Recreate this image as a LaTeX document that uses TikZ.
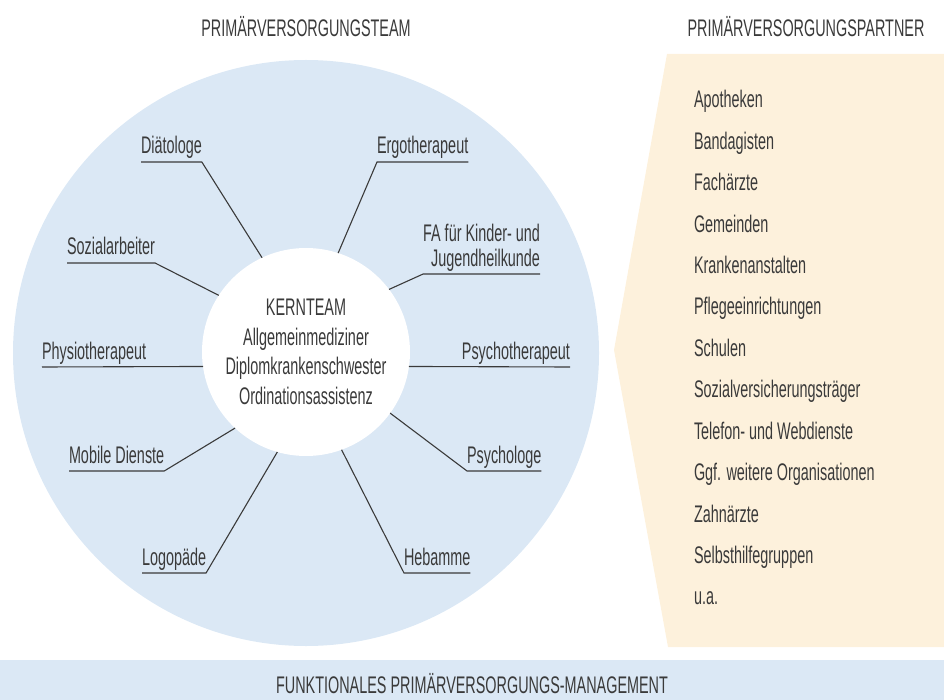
\documentclass[tikz,border=0pt]{standalone}
\usepackage{fontspec}
\setmainfont{Liberation Sans}[FakeStretch=0.60]
\usepackage{tikz}
\usetikzlibrary{calc}
\definecolor{teamblue}{RGB}{219,232,245}
\definecolor{partnercream}{RGB}{253,241,220}
\definecolor{inkgray}{RGB}{58,58,58}

\begin{document}
\begin{tikzpicture}[x=1pt,y=-1pt,
        txt/.style={font=\fontsize{24}{25}\selectfont,text=inkgray,inner sep=0pt,outer sep=0pt},
        role/.style={txt,text depth=8pt},
        pointer/.style={draw=inkgray,line width=1.1pt}]
                \useasboundingbox (0,0) rectangle (944,700);
                \fill[teamblue] (306,353) circle (293pt);
                \fill[partnercream] (667,54) -- (944,54) -- (944,647) -- (668,647) -- (614,350) -- cycle;
                \fill[teamblue] (0,660) rectangle (944,700);
                \node[txt,anchor=base] (teamtitle) at (306,37) {PRIMÄRVERSORGUNGSTEAM};
                \node[txt,anchor=base] (partnertitle) at (806,37) {PRIMÄRVERSORGUNGSPARTNER};
                \node[txt,anchor=base] (mgmt) at (472,693) {FUNKTIONALES PRIMÄRVERSORGUNGS-MANAGEMENT};
                \node[txt,circle,fill=white,minimum size=208pt,align=center,
                    font=\fontsize{24}{29.5}\selectfont] (kern) at (306,352)
                    {KERNTEAM\\Allgemeinmediziner\\Diplomkrankenschwester\\Ordinationsassistenz};
                % left side
                \node[role,anchor=south west] (diaet) at (141,162) {Diätologe};
                \node[role,anchor=south west] (sozial) at (67,263) {Sozialarbeiter};
                \node[role,anchor=south west] (physio) at (42,367) {Physiotherapeut};
                \node[role,anchor=south west] (mobil) at (69,471) {Mobile Dienste};
                \node[role,anchor=south west] (logo) at (142,573) {Logopäde};
                \draw[pointer] (diaet.south west) -- (diaet.south east) -- (kern.115);
                \draw[pointer] (sozial.south west) -- (sozial.south east) -- (kern.147);
                \draw[pointer] (physio.south west) -- (kern.188);
                \draw[pointer] (mobil.south west) -- (mobil.south east) -- (kern.227);
                \draw[pointer] (logo.south west) -- (logo.south east) -- (kern.254);
                % right side
                \node[role,anchor=south west] (ergo) at (377,162) {Ergotherapeut};
                \node[txt,inner ysep=3pt,anchor=south east,align=right] (kinder) at (540,274) {FA für Kinder- und\\Jugendheilkunde};
                \node[role,anchor=south east] (psyth) at (570,367) {Psychotherapeut};
                \node[role,anchor=south west] (psylog) at (467,471) {Psychologe};
                \node[role,anchor=south west] (hebam) at (404,573) {Hebamme};
                \draw[pointer] (ergo.south east) -- (ergo.south west) -- (kern.72);
                \draw[pointer] (kinder.south east) -- (kinder.south west) -- (kern.37);
                \draw[pointer] (psyth.south east) -- (kern.-8);
                \draw[pointer] (psylog.south east) -- (psylog.south west) -- (kern.-36);
                \draw[pointer] (hebam.south east) -- (hebam.south west) -- (kern.-70);
                % partner list
                \node[txt,anchor=base west] (apo) at (694,108) {Apotheken};
                \node[txt,anchor=base west] (banda) at (694,149.4) {Bandagisten};
                \node[txt,anchor=base west] (fach) at (694,190.8) {Fachärzte};
                \node[txt,anchor=base west] (gemein) at (694,232.2) {Gemeinden};
                \node[txt,anchor=base west] (kranken) at (694,273.6) {Krankenanstalten};
                \node[txt,anchor=base west] (pflege) at (694,315) {Pflegeeinrichtungen};
                \node[txt,anchor=base west] (schule) at (694,356.4) {Schulen};
                \node[txt,anchor=base west] (svtraeger) at (694,397.8) {Sozialversicherungsträger};
                \node[txt,anchor=base west] (telweb) at (694,439.2) {Telefon- und Webdienste};
                \node[txt,anchor=base west] (weitere) at (694,480.6) {Ggf. weitere Organisationen};
                \node[txt,anchor=base west] (zahn) at (694,522) {Zahnärzte};
                \node[txt,anchor=base west] (selbst) at (694,563.4) {Selbsthilfegruppen};
                \node[txt,anchor=base west] (ua) at (694,604.8) {u.a.};
\end{tikzpicture}
\end{document}
